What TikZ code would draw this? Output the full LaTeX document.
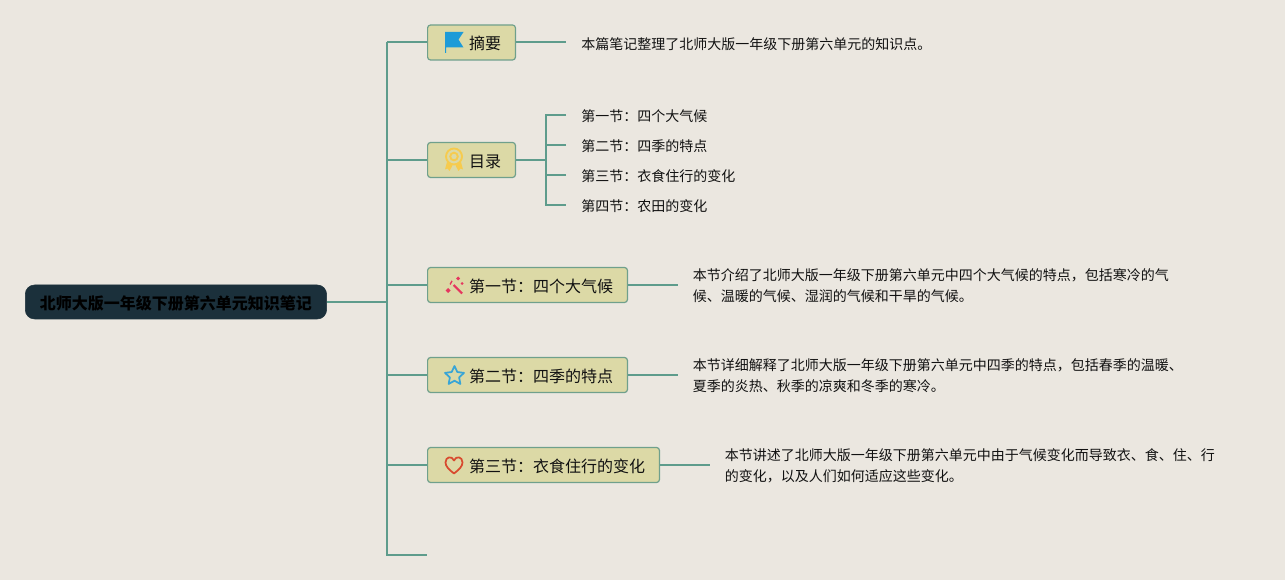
\documentclass[tikz,border=0pt]{standalone}
\usepackage{fontspec}
\setmainfont{Noto Sans CJK SC}
\definecolor{bgc}{HTML}{EBE7E0}
\definecolor{linec}{HTML}{5E9C8C}
\definecolor{boxc}{HTML}{DCD9A6}
\definecolor{boxl}{HTML}{6FA08C}
\definecolor{rootc}{HTML}{1B303B}
\definecolor{txtc}{HTML}{111111}
\definecolor{flagc}{HTML}{1D9BD8}
\definecolor{medalc}{HTML}{F6CB4E}
\definecolor{wandc}{HTML}{E5375F}
\definecolor{starc}{HTML}{38A5D6}
\definecolor{heartc}{HTML}{D84A2E}
\tikzset{
  x=0.75pt,y=-0.75pt,
  conn/.style={draw=linec,line width=1.5pt,line join=miter},
  mainbox/.style={draw=boxl,fill=boxc,line width=0.9pt,rounded corners=2.2pt,anchor=west,
    inner xsep=10.7pt,inner ysep=0pt,minimum height=26.25pt,text height=11pt,text depth=0pt,
    text=txtc,font=\fontsize{12}{14}\selectfont},
  rootbox/.style={fill=rootc,draw=rootc,rounded corners=7pt,anchor=west,inner xsep=0pt,inner ysep=0pt,
    minimum height=25.5pt,minimum width=226pt,text height=10.6pt,text depth=0pt,
    text=black,font=\fontsize{12}{14}\selectfont\bfseries},
  note/.style={anchor=west,align=left,inner xsep=11.25pt,inner ysep=0pt,text=txtc,
    font=\fontsize{10.5}{15.75}\selectfont},
  subnote/.style={anchor=west,inner xsep=11.25pt,inner ysep=0pt,text=txtc,
    text height=9.5pt,text depth=0pt,font=\fontsize{10.5}{15.75}\selectfont},
}
\newcommand{\icongap}{\hspace*{20.5pt}}
\begin{document}
\begin{tikzpicture}
\useasboundingbox (0,0) rectangle (1285,580);
\fill[bgc] (0,0) rectangle (1285,580);

% root and main topics
\node[rootbox] (root) at (25,302) {北师大版一年级下册第六单元知识笔记};
\node[mainbox] (a) at (427,42.5) {\icongap 摘要};
\node[mainbox] (b) at (427,160) {\icongap 目录};
\node[mainbox] (c) at (427,285) {\icongap 第一节：四个大气候};
\node[mainbox] (d) at (427,375) {\icongap 第二节：四季的特点};
\node[mainbox] (e) at (427,465) {\icongap 第三节：衣食住行的变化};

% notes
\node[note] (an) at (566,44.5) {本篇笔记整理了北师大版一年级下册第六单元的知识点。};
\node[subnote] (b1) at (566,115) {第一节：四个大气候};
\node[subnote] (b2) at (566,145) {第二节：四季的特点};
\node[subnote] (b3) at (566,175) {第三节：衣食住行的变化};
\node[subnote] (b4) at (566,205) {第四节：农田的变化};
\node[note] (cn) at (677.5,285.5) {本节介绍了北师大版一年级下册第六单元中四个大气候的特点，包括寒冷的气\\候、温暖的气候、湿润的气候和干旱的气候。};
\node[note] (dn) at (677.5,376) {本节详细解释了北师大版一年级下册第六单元中四季的特点，包括春季的温暖、\\夏季的炎热、秋季的凉爽和冬季的寒冷。};
\node[note] (en) at (709.5,466) {本节讲述了北师大版一年级下册第六单元中由于气候变化而导致衣、食、住、行\\的变化，以及人们如何适应这些变化。};

% connectors
\coordinate (ttop) at (387,42.5);
\coordinate (tbot) at (387,555);
\coordinate (tend) at (427,555);
\coordinate (bj) at (546,160);
\draw[conn] (ttop) -- (tbot) -- (tend);
\draw[conn] (root.east) -- (root.east -| ttop);
\foreach \n in {a,b,c,d,e} \draw[conn] (\n.west -| ttop) -- (\n.west);
\draw[conn] (a.east) -- (an.west |- a.east);
\draw[conn] (b.east) -- (bj);
\draw[conn] (b1.west) -- (b1.west -| bj) -- (b4.west -| bj) -- (b4.west);
\draw[conn] (b2.west) -- (b2.west -| bj);
\draw[conn] (b3.west) -- (b3.west -| bj);
\draw[conn] (c.east) -- (cn.west |- c.east);
\draw[conn] (d.east) -- (dn.west |- d.east);
\draw[conn] (e.east) -- (en.west |- e.east);

% flag
\fill[flagc] (445,32) -- (463.5,32) -- (458.5,39.5) -- (463.5,47.5) -- (446,47.5) -- (446,53) -- (445,53) -- cycle;
% medal
\draw[medalc,line width=1.4pt] (454,156.5) circle (8);
\draw[medalc,line width=1.4pt] (454,156.5) circle (3.8);
\fill[medalc] (447,162) -- (452.5,165.5) -- (449.5,171) -- (447.5,168.5) -- (445,169.5) -- cycle;
\fill[medalc] (461,162) -- (455.5,165.5) -- (458.5,171) -- (460.5,168.5) -- (463,169.5) -- cycle;
% wand
\draw[wandc,line width=1.6pt] (453.5,285) -- (462,293.5);
\fill[wandc] (448,288) -- (450.5,290.5) -- (448,293) -- (445.5,290.5) -- cycle;
\fill[wandc] (458,276.5) -- (460,278.5) -- (458,280.5) -- (456,278.5) -- cycle;
\fill[wandc] (452.5,281.5) -- (450.5,285) -- (449.5,284) -- (451.5,280.5) -- cycle;
\fill[wandc] (462,282) -- (463.5,283.5) -- (462,285) -- (460.5,283.5) -- cycle;
% star
\draw[starc,line width=1.3pt,line join=round]
  (454.5,366) -- (457.3,372) -- (464,372.9) -- (459.1,377.4) -- (460.4,384)
  -- (454.5,380.7) -- (448.6,384) -- (449.9,377.4) -- (445,372.9) -- (451.7,372) -- cycle;
% heart
\draw[heartc,line width=1.3pt,line join=round]
  (454,473.5) .. controls (449,469.5) and (445.5,466.5) .. (445.5,462.5)
  .. controls (445.5,456.5) and (452,455.5) .. (454,460.5)
  .. controls (456,455.5) and (462.5,456.5) .. (462.5,462.5)
  .. controls (462.5,466.5) and (459,469.5) .. (454,473.5) -- cycle;
\end{tikzpicture}
\end{document}
